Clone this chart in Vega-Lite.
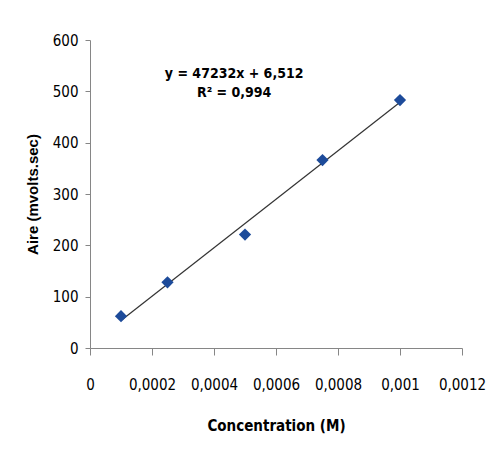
{
  "$schema": "https://vega.github.io/schema/vega-lite/v6.json",
  "width": 372,
  "height": 308,
  "autosize": "none",
  "padding": {"left": 90, "top": 40, "right": 32, "bottom": 115},
  "background": "white",
  "config": {
    "view": {"stroke": null},
    "font": "DejaVu Sans Condensed",
    "axis": {
      "grid": false,
      "domainColor": "#868686",
      "tickColor": "#868686",
      "labelColor": "#000000",
      "labelFont": "DejaVu Sans Condensed",
      "labelFontSize": 15,
      "labelOverlap": false,
      "labelFlush": false,
      "titleColor": "#000000",
      "titleFontWeight": "bold"
    }
  },
  "datasets": {
    "points": [
      {"conc": 0.0001, "aire": 62},
      {"conc": 0.00025, "aire": 128},
      {"conc": 0.0005, "aire": 221},
      {"conc": 0.00075, "aire": 366},
      {"conc": 0.001, "aire": 483}
    ],
    "fit": [
      {"conc": 0.0001, "aire": 53.7},
      {"conc": 0.001, "aire": 478.8}
    ],
    "notes": [
      {"conc": 0.000465, "aire": 534, "label": "y = 47232x + 6,512"},
      {"conc": 0.000465, "aire": 496, "label": "R² = 0,994"}
    ]
  },
  "layer": [
    {
      "data": {"name": "fit"},
      "mark": {"type": "line", "color": "#333333", "strokeWidth": 1.2},
      "encoding": {
        "x": {"field": "conc", "type": "quantitative"},
        "y": {"field": "aire", "type": "quantitative"}
      }
    },
    {
      "data": {"name": "points"},
      "mark": {"type": "point", "shape": "diamond", "filled": true, "size": 150, "color": "#1d4b9a", "opacity": 1},
      "encoding": {
        "x": {
          "field": "conc", "type": "quantitative",
          "scale": {"domain": [0, 0.0012], "nice": false, "zero": true},
          "axis": {
            "values": [0, 0.0002, 0.0004, 0.0006, 0.0008, 0.001, 0.0012],
            "labelExpr": "replace(format(datum.value, '~g'), '.', ',')",
            "tickSize": 7,
            "labelPadding": 22,
            "title": "Concentration (M)",
            "titleFont": "DejaVu Sans Condensed",
            "titleFontSize": 15,
            "titlePadding": 26
          }
        },
        "y": {
          "field": "aire", "type": "quantitative",
          "scale": {"domain": [0, 600], "nice": false},
          "axis": {
            "values": [0, 100, 200, 300, 400, 500, 600],
            "tickSize": 5,
            "labelPadding": 7,
            "title": "Aire (mvolts.sec)",
            "titleFont": "Liberation Sans",
            "titleFontSize": 15,
            "titlePadding": 12
          }
        }
      }
    },
    {
      "data": {"name": "notes"},
      "mark": {"type": "text", "font": "DejaVu Sans Condensed", "fontSize": 14, "fontWeight": "bold", "color": "#000000", "align": "center", "baseline": "middle"},
      "encoding": {
        "x": {"field": "conc", "type": "quantitative"},
        "y": {"field": "aire", "type": "quantitative"},
        "text": {"field": "label"}
      }
    }
  ]
}
